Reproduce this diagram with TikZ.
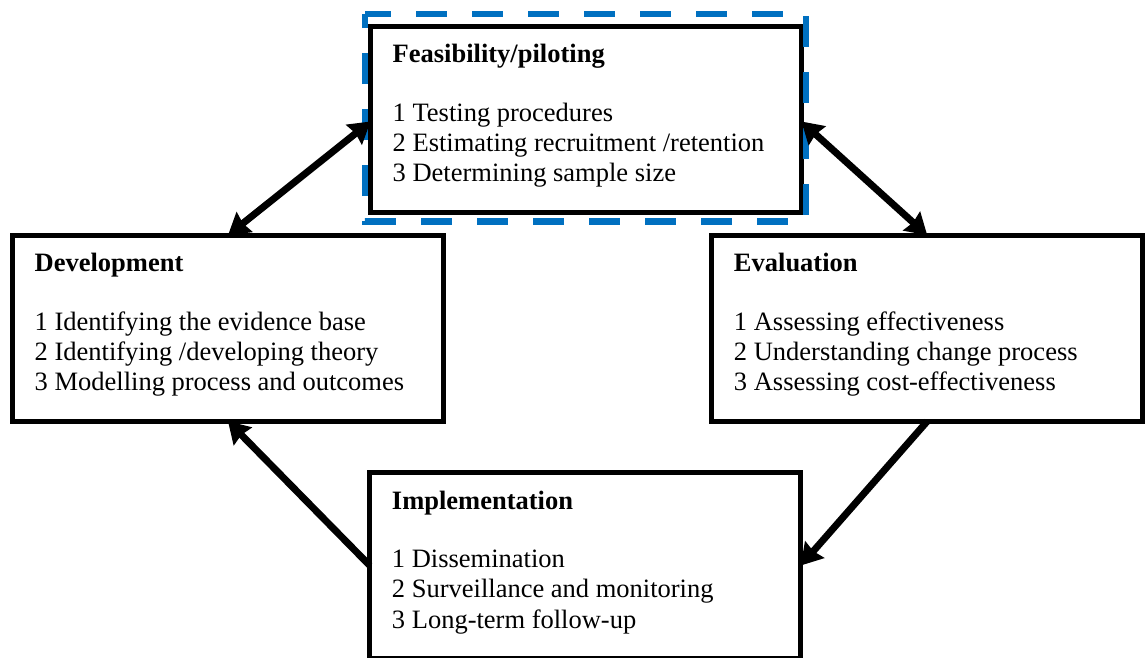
\documentclass[tikz,border=0pt]{standalone}
\usepackage{fontspec}
\setmainfont{Liberation Serif}
\usetikzlibrary{arrows.meta,calc}
\definecolor{frameblue}{RGB}{0,112,192}

% title and three numbered items inside a stage box
\newcommand{\stagetext}[5]{%
  \node[stagetitle] (#1-t) at ([xshift=22pt,yshift=-36.5pt]#1.north west) {#2};
  \node[stageitem] (#1-a) at ([yshift=-58.5pt]#1-t.base west) {#3};
  \node[stageitem] (#1-b) at ([yshift=-30.3pt]#1-a.base west) {#4};
  \node[stageitem] (#1-c) at ([yshift=-30.3pt]#1-b.base west) {#5};
}

\begin{document}
\begin{tikzpicture}[x=1pt,y=-1pt,
  stagebox/.style={draw, line width=5pt, minimum width=431pt, minimum height=186pt,
    inner sep=0pt, outer sep=0pt, fill=white},
  stagetitle/.style={anchor=base west, inner sep=0pt,
    font=\bfseries\fontsize{26.5}{30.5}\selectfont},
  stageitem/.style={anchor=base west, inner sep=0pt,
    font=\fontsize{26.5}{30.5}\selectfont},
  conn/.style={line width=7pt, black},
  tip/.tip={Stealth[length=21pt,width=25pt,inset=2pt]},
  pilotframe/.style={minimum width=441pt, minimum height=207.5pt,
    inner sep=0pt, outer sep=0pt},
]
\useasboundingbox (0,0) rectangle (1146,657);

% the four stages
\node[stagebox] (feas) at (586,119) {};
\node[stagebox] (dev)  at (228,328.25) {};
\node[stagebox] (eval) at (927.25,328.25) {};
\node[stagebox] (impl) at (585.25,565.5) {};

% dashed frame round the feasibility stage, drawn clockwise from its top-left corner
\node[pilotframe] (frame) at (585.5,117.75) {};
\draw[frameblue, line width=6.5pt, dash pattern=on 31pt off 25pt, dash phase=5pt, line join=miter]
  (frame.north west) -- (frame.north east) -- (frame.south east) -- (frame.south west) -- cycle;

\stagetext{feas}{Feasibility/piloting}{1 Testing procedures}{2 Estimating recruitment /retention}{3 Determining sample size}
\stagetext{dev}{Development}{1 Identifying the evidence base}{2 Identifying /developing theory}{3 Modelling process and outcomes}
\stagetext{eval}{Evaluation}{1 Assessing effectiveness}{2 Understanding change process}{3 Assessing cost-effectiveness}
\stagetext{impl}{Implementation}{1 Dissemination}{2 Surveillance and monitoring}{3 Long-term follow-up}

% connectors between the stages
\draw[conn, tip-tip] ($(feas.west)+(0,2.5)$) -- (dev.north);
\draw[conn, tip-tip] ($(feas.east)+(0,2.5)$) -- (eval.north);
\draw[conn, -tip] (eval.south) -- (impl.east);
\draw[conn, -tip] (impl.west) -- (dev.south);
\end{tikzpicture}
\end{document}
